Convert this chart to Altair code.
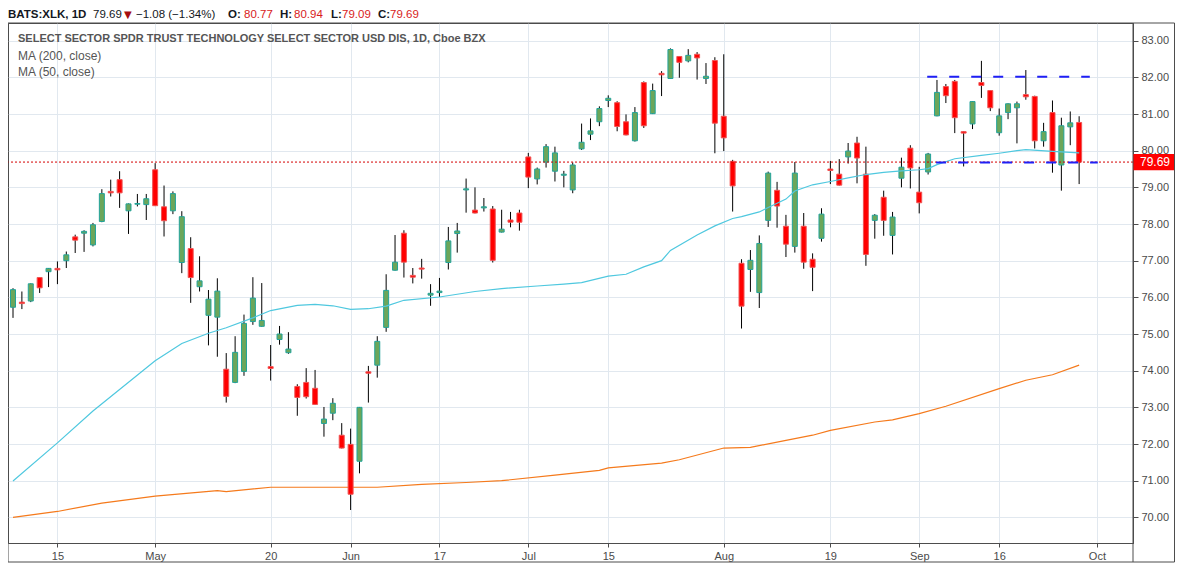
import altair as alt
import pandas as pd

# ---------------- data ----------------
first_idx = -5  # trading-day index of first candle (Apr 8, 2019); Apr 15 = 0
opens = [75.73, 75.87, 75.90, 76.54, 76.70, 76.79, 77.00, 77.65, 77.75, 77.43,
         78.07, 78.89, 79.21, 78.36, 78.54, 78.53, 79.48, 78.47, 78.36, 76.95,
         77.33, 76.29, 75.51, 75.46, 74.04, 73.68, 73.98, 75.34, 75.21, 74.11,
         74.85, 74.49, 73.57, 73.68, 73.52, 72.56, 72.84, 72.24, 71.99, 71.53,
         73.97, 74.15, 75.18, 76.74, 77.75, 76.60, 76.80, 76.06, 76.13, 76.95,
         77.74, 78.93, 78.38, 78.44, 78.41, 77.78, 78.11, 78.30, 79.83, 79.23,
         79.69, 79.44, 79.33, 78.93, 80.05, 80.45, 80.79, 81.37, 81.31, 80.79,
         80.27, 81.86, 81.01, 82.11, 81.97, 82.57, 82.45, 82.63, 81.97, 82.46,
         80.94, 79.71, 76.93, 76.76, 76.13, 78.10, 78.92, 77.94, 77.39, 77.94,
         77.04, 77.61, 79.50, 79.36, 79.83, 80.21, 79.36, 78.10, 78.73, 77.69,
         79.25, 80.07, 78.87, 79.42, 80.95, 81.75, 81.89, 80.52, 80.73, 81.86,
         81.64, 80.49, 81.04, 81.17, 81.53, 81.48, 80.27, 81.04, 79.61, 80.65,
         80.77]
highs = [76.25, 76.16, 76.38, 76.55, 76.80, 76.98, 77.25, 77.71, 77.83, 78.03,
         78.95, 79.21, 79.44, 78.56, 78.82, 78.82, 79.66, 79.05, 78.89, 78.35,
         77.64, 77.12, 76.20, 76.52, 74.48, 74.94, 75.53, 76.55, 76.39, 74.70,
         75.22, 75.05, 73.63, 74.07, 74.02, 73.01, 73.25, 72.57, 72.42, 73.01,
         74.13, 74.94, 76.63, 77.70, 77.83, 76.80, 77.05, 76.36, 76.53, 77.92,
         78.03, 79.24, 79.00, 78.71, 78.49, 78.39, 78.33, 78.39, 79.94, 79.54,
         80.18, 80.11, 79.45, 79.68, 80.74, 80.88, 81.21, 81.51, 81.35, 80.99,
         81.19, 81.89, 81.83, 82.17, 82.79, 82.58, 82.77, 82.69, 82.39, 82.55,
         82.63, 79.75, 77.04, 77.29, 77.69, 79.43, 79.15, 78.25, 79.69, 78.30,
         77.20, 78.43, 79.72, 79.77, 80.21, 80.38, 80.11, 78.27, 78.91, 78.33,
         79.81, 80.15, 79.56, 79.94, 81.93, 81.82, 81.93, 80.53, 81.35, 82.45,
         81.65, 81.15, 81.29, 81.34, 82.20, 81.50, 80.76, 81.37, 80.90, 81.07,
         80.94]
lows = [75.44, 75.68, 75.87, 76.12, 76.28, 76.36, 76.80, 77.21, 77.24, 77.39,
        78.05, 78.75, 78.44, 77.73, 78.48, 78.11, 78.49, 77.66, 78.27, 76.66,
        75.85, 76.16, 74.69, 74.38, 73.13, 73.66, 73.86, 75.25, 75.20, 73.73,
        74.71, 74.46, 72.77, 73.24, 73.07, 72.20, 72.65, 71.88, 70.20, 71.20,
        73.13, 73.81, 75.06, 76.73, 76.54, 76.38, 76.51, 75.77, 76.01, 76.76,
        77.22, 78.31, 78.29, 78.34, 76.95, 77.77, 77.91, 77.82, 78.98, 79.08,
        79.54, 79.16, 79.00, 78.84, 80.02, 80.29, 80.67, 81.19, 80.53, 80.42,
        80.25, 80.62, 81.00, 81.49, 81.96, 81.99, 82.41, 81.94, 81.82, 79.93,
        79.99, 78.34, 75.15, 76.15, 75.71, 77.92, 77.90, 77.10, 77.22, 76.78,
        76.17, 77.52, 79.09, 79.05, 79.65, 79.11, 76.86, 77.60, 77.68, 77.17,
        79.00, 78.97, 78.29, 79.35, 80.94, 81.30, 80.48, 79.57, 80.59, 81.44,
        81.08, 80.41, 80.86, 80.20, 81.39, 80.06, 80.11, 79.40, 78.91, 80.15,
        79.09]
closes = [76.21, 75.83, 76.37, 76.26, 76.79, 76.75, 77.16, 77.56, 77.80, 77.98,
          78.83, 78.85, 78.85, 78.55, 78.56, 78.69, 78.50, 78.09, 78.83, 78.20,
          76.54, 76.45, 75.95, 76.17, 73.30, 74.50, 75.29, 75.98, 75.37, 74.06,
          75.00, 74.59, 73.27, 73.29, 73.08, 72.68, 73.11, 71.89, 70.63, 73.00,
          73.93, 74.80, 76.19, 76.96, 76.96, 76.55, 76.77, 76.11, 76.17, 77.54,
          77.81, 78.96, 78.30, 78.47, 77.01, 77.86, 78.05, 78.05, 79.28, 79.50,
          80.11, 79.94, 79.36, 79.61, 80.23, 80.54, 81.15, 81.43, 80.66, 80.43,
          81.04, 80.68, 81.64, 82.07, 82.76, 82.41, 82.60, 82.53, 82.03, 80.75,
          80.35, 79.04, 75.76, 77.01, 77.47, 79.39, 78.49, 77.45, 79.39, 76.96,
          76.82, 78.27, 79.46, 79.06, 79.99, 79.80, 77.17, 78.24, 78.10, 78.19,
          79.55, 79.53, 78.58, 79.91, 81.59, 81.50, 80.90, 80.48, 81.34, 81.78,
          81.17, 80.95, 81.28, 81.28, 81.47, 80.27, 80.52, 79.71, 80.68, 80.76,
          79.69]

ma50_idx = [-5, 0, 4, 11, 14, 17, 19, 22, 24, 27, 29, 31, 33, 35, 37, 39, 43, 47,
            50, 54, 57, 59, 62, 64, 66, 68, 69, 72, 74, 76, 77, 79, 80, 82, 83, 85,
            87, 89, 91, 93, 95, 97, 98, 99, 101, 104, 106, 108, 109, 112, 115]
ma50_val = [70.99, 72.03, 72.90, 74.27, 74.74, 75.02, 75.17, 75.44, 75.64, 75.78,
            75.81, 75.77, 75.67, 75.69, 75.76, 75.92, 76.01, 76.16, 76.24, 76.31,
            76.36, 76.40, 76.58, 76.63, 76.83, 77.00, 77.28, 77.70, 77.95, 78.15,
            78.20, 78.33, 78.45, 78.68, 78.90, 79.07, 79.16, 79.26, 79.35, 79.41,
            79.45, 79.48, 79.51, 79.62, 79.78, 79.87, 79.93, 80.00, 80.03, 79.98,
            79.94]

ma200_idx = [-5, 0, 5, 11, 18, 19, 24, 33, 36, 41, 46, 50, 56, 61, 62, 68, 70, 75,
             78, 82, 85, 87, 92, 94, 97, 100, 106, 109, 112, 115]
ma200_val = [70.00, 70.16, 70.39, 70.58, 70.73, 70.70, 70.82, 70.82, 70.82, 70.90,
             70.95, 71.00, 71.15, 71.28, 71.35, 71.48, 71.57, 71.89, 71.91, 72.10,
             72.24, 72.37, 72.60, 72.66, 72.83, 73.03, 73.51, 73.74, 73.89, 74.15]

x_tick_idx = [0, 11, 24, 33, 43, 53, 62, 75, 87, 97, 106, 117]
x_tick_labels = ["15", "May", "20", "Jun", "17", "Jul", "15", "Aug", "19", "Sep", "16", "Oct"]
y_ticks = [70, 71, 72, 73, 74, 75, 76, 77, 78, 79, 80, 81, 82, 83]

last_price = 79.69
level_values = [82.02, 79.68]
level_start = [97.9, 98.9]
level_end = [116.2, 117.1]

title_line = "SELECT SECTOR SPDR TRUST TECHNOLOGY SELECT SECTOR USD DIS, 1D, Cboe BZX"
legend_lines = ["MA (200, close)", "MA (50, close)"]
header_bold = ["BATS:XLK, 1D", "O:", "H:", "L:", "C:"]
header_plain = ["79.69", "−1.08 (−1.34%)"]
header_arrow = ["▼"]
header_values = ["80.77", "80.94", "79.09", "79.69"]

# ---------------- layout / style ----------------
W, H = 1125, 520
RIGHT = 42            # width of the price-scale column
FRAME_BOTTOM = H + 19
FONT = "Liberation Sans"
GRID = "#e1e8ef"
FRAME = "#4d4d4d"
UP_FILL, UP_LINE = "#6ca65a", "#22a39a"
DN_FILL, DN_LINE = "#ff0000", "#f05454"

n = len(opens)
candles = pd.DataFrame({
    "idx": list(range(first_idx, first_idx + n)),
    "open": opens, "high": highs, "low": lows, "close": closes,
})
candles["dir"] = ["up" if c >= o else "down" for o, c in zip(opens, closes)]

ma50 = pd.DataFrame({"idx": ma50_idx, "value": ma50_val})
ma200 = pd.DataFrame({"idx": ma200_idx, "value": ma200_val})
levels = pd.DataFrame({"start": level_start, "end": level_end, "value": level_values})
price_df = pd.DataFrame({"value": [last_price], "label": [f"{last_price:.2f}"]})

label_expr = ("[" + ",".join(f"'{t}'" for t in x_tick_labels) + "][indexof(["
              + ",".join(str(v) for v in x_tick_idx) + "], datum.value)]")

x_scale = alt.Scale(domain=[-5.0, 120.5], nice=False, zero=False)
y_scale = alt.Scale(domain=[69.30, 83.483], nice=False, zero=False)

x_axis = alt.Axis(values=x_tick_idx, labelExpr=label_expr, grid=True, title=None,
                  tickSize=4, labelPadding=3, labelFlush=False, labelOverlap=False)
y_axis = alt.Axis(values=y_ticks, format=".2f", orient="right", grid=True, title=None,
                  tickSize=5, labelPadding=3)


def X(field):
    return alt.X(field, type="quantitative", scale=x_scale, axis=x_axis)


def Y(field):
    return alt.Y(field, type="quantitative", scale=y_scale, axis=y_axis)


wicks = alt.Chart(candles).mark_rule(color="#000000", strokeWidth=1, clip=True).encode(
    x=X("idx"), y=Y("low"), y2="high")

bodies = alt.Chart(candles).mark_bar(size=5, strokeWidth=1, clip=True).encode(
    x=X("idx"), y=Y("open"), y2="close",
    fill=alt.Fill("dir:N", scale=alt.Scale(domain=["up", "down"], range=[UP_FILL, DN_FILL]), legend=None),
    stroke=alt.Stroke("dir:N", scale=alt.Scale(domain=["up", "down"], range=[UP_LINE, DN_LINE]), legend=None),
)

ma50_line = alt.Chart(ma50).mark_line(color="#4fc8df", strokeWidth=1.2, clip=True).encode(
    x=X("idx"), y=Y("value"))
ma200_line = alt.Chart(ma200).mark_line(color="#f57a1c", strokeWidth=1.2, clip=True).encode(
    x=X("idx"), y=Y("value"))

price_line = alt.Chart(price_df).mark_rule(color="#d40000", strokeWidth=1, strokeDash=[2, 2]).encode(
    y=Y("value"))

level_lines = alt.Chart(levels).mark_rule(color="#1f1ff5", strokeWidth=2, strokeDash=[10, 12]).encode(
    x=X("start"), x2="end", y=Y("value"))

price_box = alt.Chart(price_df).mark_rect(color="#ff0000").encode(
    x=alt.value(W), x2=alt.value(W + RIGHT),
    y=alt.Y("top:Q", scale=y_scale, axis=y_axis), y2="bottom:Q",
).transform_calculate(top="datum.value + 0.22", bottom="datum.value - 0.22")

price_text = alt.Chart(price_df).mark_text(
    align="left", baseline="middle", color="#ffffff", font=FONT, fontSize=12).encode(
    x=alt.value(W + 7), y=Y("value"), text="label:N")

# frame around whole chart
frame = alt.Chart(price_df).mark_rect(fillOpacity=0, stroke=FRAME, strokeWidth=1).encode(
    x=alt.value(0), x2=alt.value(W + RIGHT - 0.5), y=alt.value(0), y2=alt.value(FRAME_BOTTOM))
sep = alt.Chart(price_df).mark_rule(color=FRAME, strokeWidth=1).encode(
    x=alt.value(W), y=alt.value(0), y2=alt.value(FRAME_BOTTOM))

# header texts
hb_x = [0, 220, 272, 323, 370]
hp_x = [85, 128]
hv_x = [236, 286, 334, 382]
HY = -8
hdr_bold = alt.Chart(pd.DataFrame({"t": header_bold, "x": hb_x})).mark_text(
    align="left", baseline="middle", font=FONT, fontSize=11.5, fontWeight="bold", color="#131722").encode(
    x=alt.X("x:Q", scale=None), y=alt.value(HY), text="t:N")
hdr_plain = alt.Chart(pd.DataFrame({"t": header_plain, "x": hp_x})).mark_text(
    align="left", baseline="middle", font=FONT, fontSize=11.5, color="#131722").encode(
    x=alt.X("x:Q", scale=None), y=alt.value(HY), text="t:N")
hdr_arrow = alt.Chart(pd.DataFrame({"t": header_arrow, "x": [116]})).mark_text(
    align="left", baseline="middle", font="DejaVu Sans", fontSize=10, color="#a50f0f").encode(
    x=alt.X("x:Q", scale=None), y=alt.value(HY), text="t:N")
hdr_vals = alt.Chart(pd.DataFrame({"t": header_values, "x": hv_x})).mark_text(
    align="left", baseline="middle", font=FONT, fontSize=11.5, color="#d81b1b").encode(
    x=alt.X("x:Q", scale=None), y=alt.value(HY), text="t:N")

sub_title = alt.Chart(pd.DataFrame({"t": [title_line]})).mark_text(
    align="left", baseline="middle", font=FONT, fontSize=11, fontWeight="bold", color="#555555").encode(
    x=alt.value(10), y=alt.value(16), text="t:N")
sub_legend = alt.Chart(pd.DataFrame({"t": legend_lines, "y": [33, 49]})).mark_text(
    align="left", baseline="middle", font=FONT, fontSize=12, color="#555555").encode(
    x=alt.value(10), y=alt.Y("y:Q", scale=None), text="t:N")

chart = alt.layer(
    ma200_line, wicks, bodies, ma50_line, price_line, level_lines,
    price_box, price_text, frame, sep,
    hdr_bold, hdr_plain, hdr_arrow, hdr_vals, sub_title, sub_legend,
).properties(
    width=W, height=H,
    autosize=alt.AutoSizeParams(type="none"),
    padding={"left": 0, "top": 15, "right": RIGHT, "bottom": 21},
    background="#ffffff",
).configure_view(
    stroke=FRAME, strokeWidth=1,
).configure_axis(
    gridColor=GRID, gridWidth=1, domainColor=FRAME, tickColor=FRAME,
    labelColor="#4a4a4a", labelFont=FONT, labelFontSize=11,
)

chart.save("out.html", embed_options={"renderer": "svg", "actions": False})
